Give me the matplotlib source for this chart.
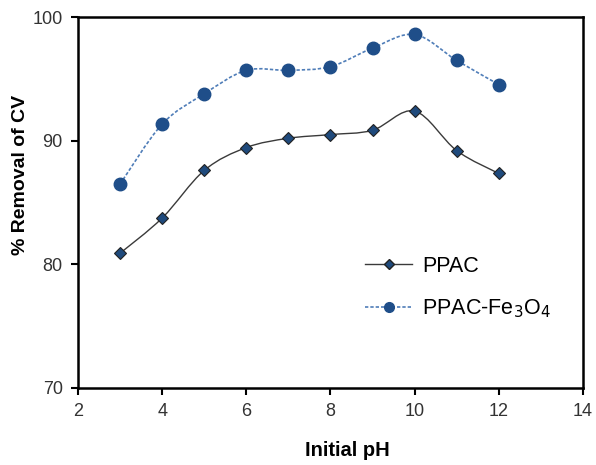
import matplotlib.pyplot as plt
import numpy as np
from matplotlib.path import Path
from matplotlib.patches import PathPatch

plt.rcParams["font.family"] = ["Liberation Sans", "DejaVu Sans"]

ph = [3, 4, 5, 6, 7, 8, 9, 10, 11, 12]
ppac = [80.9, 83.75, 87.6, 89.45, 90.2, 90.5, 90.85, 92.4, 89.2, 87.35]
ppac_fe = [86.5, 91.35, 93.8, 95.7, 95.7, 96.0, 97.5, 98.6, 96.5, 94.55]


def smooth_path(x, y, t=1 / 6):
    """Excel 風の平滑線 (Catmull-Rom → Bezier)."""
    x = np.asarray(x, float)
    y = np.asarray(y, float)
    n = len(x)
    verts = [(x[0], y[0])]
    codes = [Path.MOVETO]
    for i in range(n - 1):
        p0 = max(i - 1, 0)
        p3 = min(i + 2, n - 1)
        c1 = (x[i] + (x[i + 1] - x[p0]) * t, y[i] + (y[i + 1] - y[p0]) * t)
        c2 = (x[i + 1] - (x[p3] - x[i]) * t, y[i + 1] - (y[p3] - y[i]) * t)
        verts += [c1, c2, (x[i + 1], y[i + 1])]
        codes += [Path.CURVE4] * 3
    return Path(verts, codes)


fig = plt.figure(figsize=(5.96, 4.65), dpi=100)
ax = fig.add_axes([0.131, 0.166, 0.847, 0.797])

ax.add_patch(PathPatch(smooth_path(ph, ppac), fill=False, color="#3a3a3a", lw=1.0, zorder=2))
ax.add_patch(PathPatch(smooth_path(ph, ppac_fe), fill=False, color="#4f7db8", lw=1.2,
                       linestyle=(0, (2, 1.2)), zorder=2))
ax.plot(ph, ppac, ls="none", marker="D", ms=6.5, mfc="#1f4a7c", mec="#222222", mew=0.8, zorder=3)
ax.plot(ph, ppac_fe, ls="none", marker="o", ms=9, mfc="#1f4e89", mec="#1f4e89", zorder=3)

# legend handles
ax.plot([], [], color="#3a3a3a", lw=1.0, marker="D", ms=5.5, mfc="#1f4a7c", mec="#222222",
        label="PPAC")
ax.plot([], [], color="#4f7db8", lw=1.2, ls=(0, (2, 1.2)), marker="o", ms=7, mfc="#1f4e89",
        mec="#1f4e89", label="PPAC-Fe$_3$O$_4$")
leg = ax.legend(loc="upper left", bbox_to_anchor=(0.53, 0.408), frameon=False, fontsize=15.5,
                handlelength=2.2, labelspacing=0.95, handletextpad=0.45)

ax.set_xlim(2, 14)
ax.set_ylim(70, 100)
ax.set_xticks(range(2, 15, 2))
ax.set_yticks([70, 80, 90, 100])
ax.tick_params(direction="out", length=5, width=1.5, labelsize=13, colors="black",
               labelcolor="#333333", pad=6)
for s in ax.spines.values():
    s.set_linewidth(1.8)

ax.set_xlabel("Initial pH", fontsize=14.5, fontweight="bold")
ax.xaxis.set_label_coords(0.533, -0.144)
ax.set_ylabel("% Removal of CV", fontsize=14, fontweight="bold")
ax.yaxis.set_label_coords(-0.097, 0.574)

fig.savefig("out.png", dpi=100)
